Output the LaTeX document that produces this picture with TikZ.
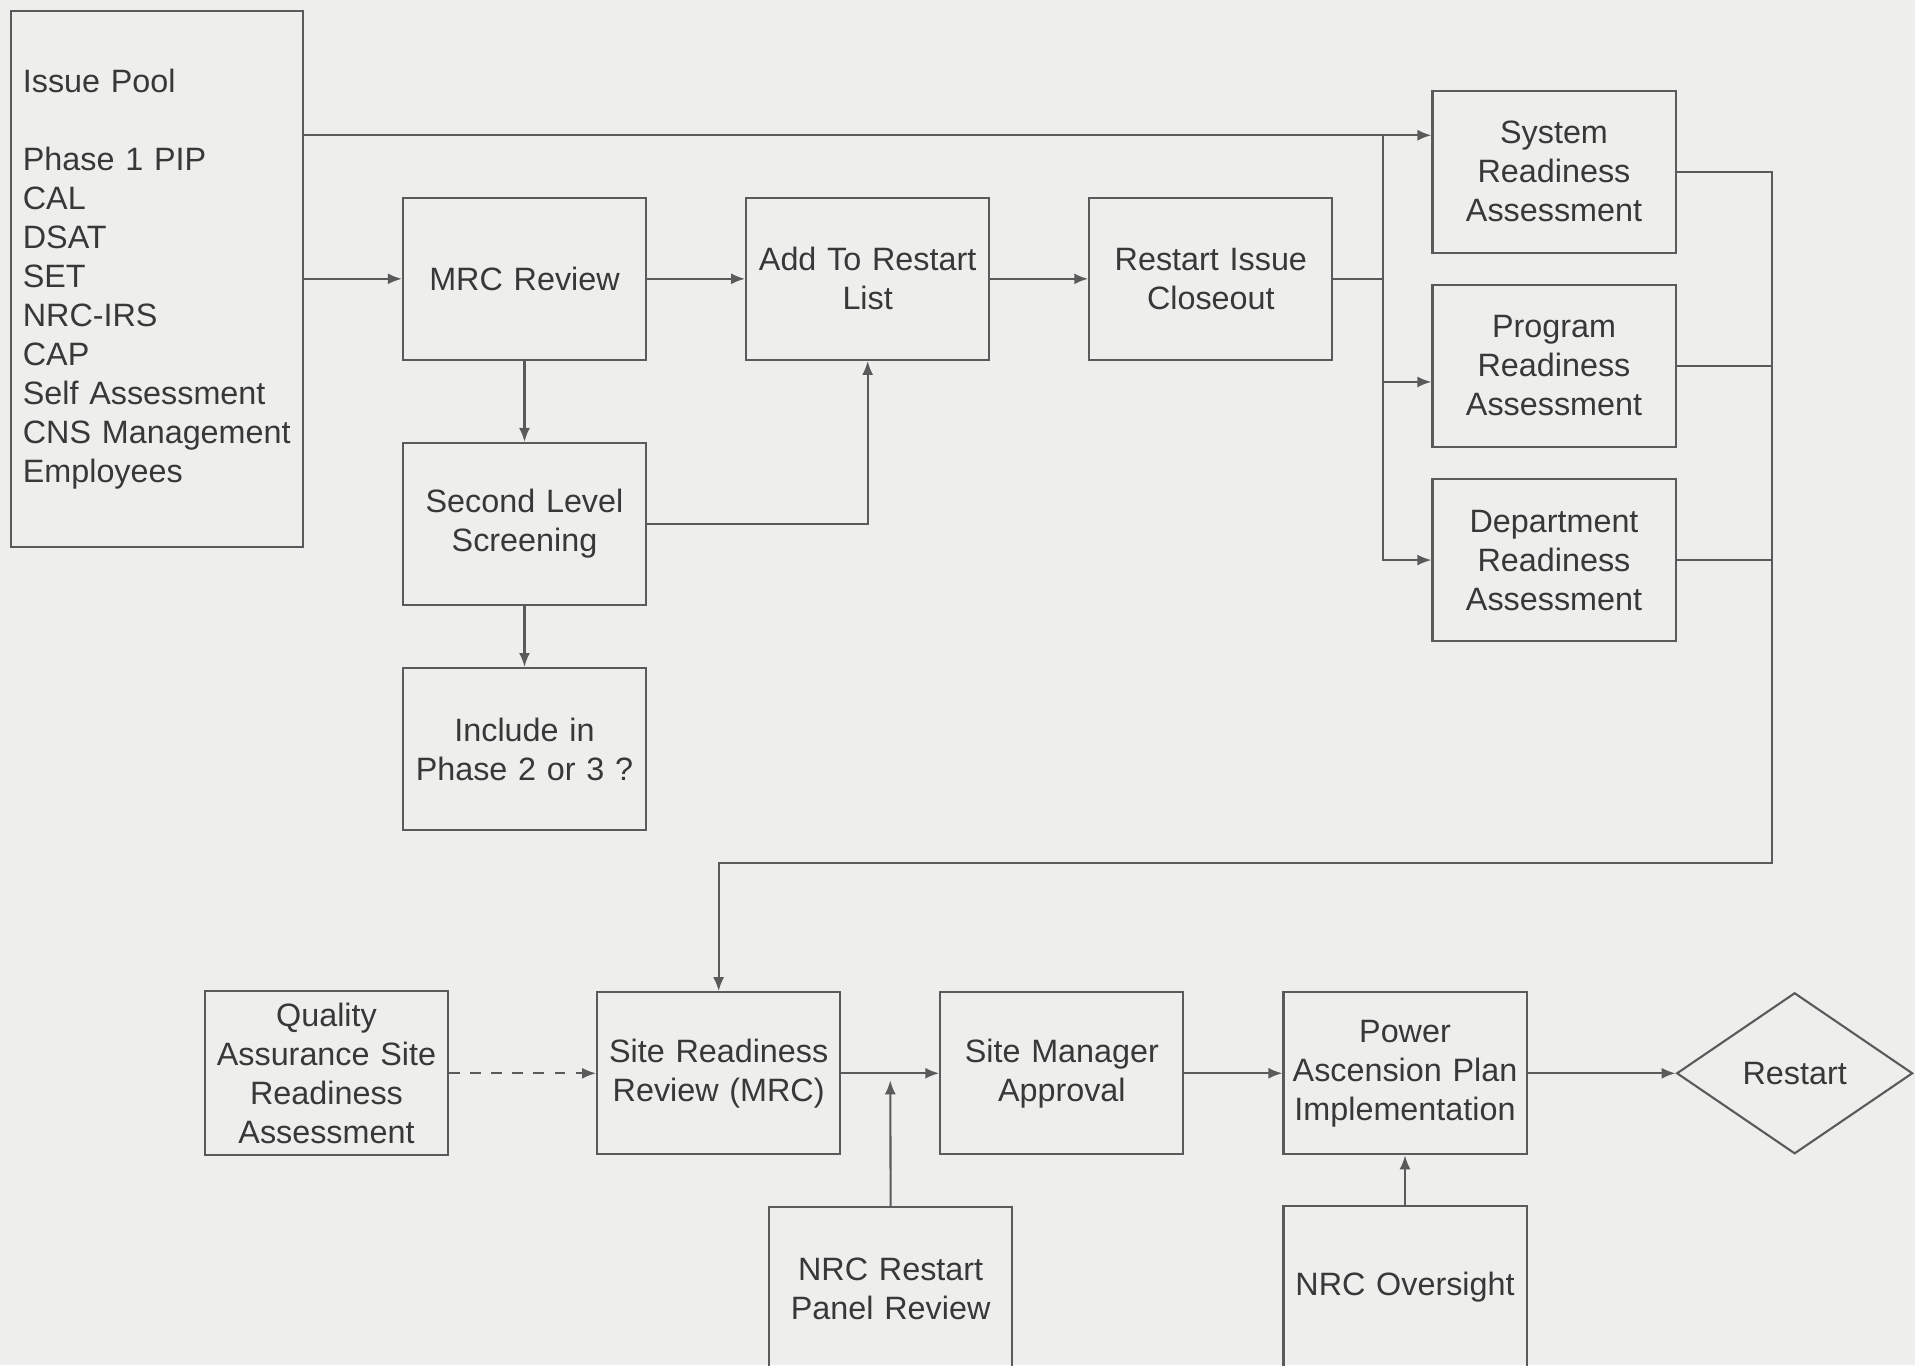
\documentclass[tikz,border=0pt]{standalone}
\usepackage{fontspec}
\setmainfont{Liberation Sans}
\usetikzlibrary{positioning,arrows.meta,calc,shapes.geometric}
\definecolor{paper}{HTML}{EEEEEC}
\definecolor{ink}{HTML}{383838}
\definecolor{rule}{HTML}{5A5A5A}

\begin{document}
\begin{tikzpicture}[
  font=\fontsize{9.2pt}{11.1pt}\selectfont,
  box/.style={draw=rule, line width=0.6pt, text=ink, align=center, inner xsep=2pt, text width=22.9mm, minimum height=16.2mm},
  listbox/.style={box, align=left, inner xsep=1.2mm, text width=26.8mm, minimum height=53.6mm},
  gate/.style={diamond, draw=rule, line width=0.6pt, text=ink, inner sep=0pt, minimum width=23.6mm, minimum height=16.1mm},
  arr/.style={-{Latex[length=1.4mm, width=1.1mm]}, line width=0.6pt, draw=rule},
  feed/.style={line width=0.6pt, draw=rule},
]
\useasboundingbox (0,0) rectangle (19.15,13.654);
\fill[paper] (0,0) rectangle (19.15,13.654);
\node[listbox, anchor=north west] (pool) at (0.098,13.556) {Issue Pool\\[11.1pt]Phase 1 PIP\\CAL\\DSAT\\SET\\NRC-IRS\\CAP\\Self Assessment\\CNS Management\\Employees};
\node[box, right=9.8mm of pool] (mrc) {MRC Review};
\node[box, right=9.8mm of mrc] (add) {Add To Restart\\List};
\node[box, right=9.8mm of add] (close) {Restart Issue\\Closeout};
\node[box, below=8.1mm of mrc] (screen) {Second Level\\Screening};
\node[box, below=6.1mm of screen] (phase) {Include in\\Phase 2 or 3 ?};
\node[box, right=9.8mm of close, yshift=10.7mm] (sys) {System\\Readiness\\Assessment};
\node[box, below=3mm of sys] (prog) {Program\\Readiness\\Assessment};
\node[box, below=3mm of prog] (dept) {Department\\Readiness\\Assessment};
\node[box, below=15.9mm of phase, xshift=-19.8mm] (qa) {Quality\\Assurance Site\\Readiness\\Assessment};
\node[box, right=14.7mm of qa] (site) {Site Readiness\\Review (MRC)};
\node[box, right=9.8mm of site] (mgr) {Site Manager\\Approval};
\node[box, right=9.8mm of mgr] (power) {Power\\Ascension Plan\\Implementation};
\node[gate, right=14.8mm of power] (restart) {Restart};
\node[box, below=5.1mm of site, xshift=17.2mm] (panel) {NRC Restart\\Panel Review};
\node[box, below=5mm of power] (watch) {NRC Oversight};
\coordinate (topin) at ([yshift=3.66mm]sys.west);
\coordinate (progin) at ([yshift=-1.6mm]prog.west);
\coordinate (split) at ([xshift=5mm]close.east);
\coordinate (merge) at ([xshift=9.5mm]sys.east);
\coordinate (turn) at ([yshift=12.8mm]site.north);
\coordinate (join) at ($(site.east)!0.5!(mgr.west)$);
\draw[arr] (pool.east |- topin) -- (topin);
\draw[arr] (pool.east |- mrc.west) -- (mrc.west);
\draw[arr] (mrc) -- (add);
\draw[arr] (add) -- (close);
\draw[arr] (mrc) -- (screen);
\draw[arr] (screen) -- (phase);
\draw[arr] (screen.east) -| (add.south);
\draw[feed] (close.east) -- (split);
\draw[arr] (split |- topin) |- (dept.west);
\draw[arr] (split |- progin) -- (progin);
\draw[feed] (prog.east) -- (prog.east -| merge);
\draw[feed] (dept.east) -- (dept.east -| merge);
\draw[arr] (sys.east) -| (merge |- turn) -| (site.north);
\draw[arr, dashed] (qa) -- (site);
\draw[arr] (site) -- (mgr);
\draw[arr] (mgr) -- (power);
\draw[arr] (power) -- (restart);
\draw[arr] (panel.north) -- ([yshift=-0.7mm]join);
\draw[arr] (watch) -- (power);
\end{tikzpicture}
\end{document}
